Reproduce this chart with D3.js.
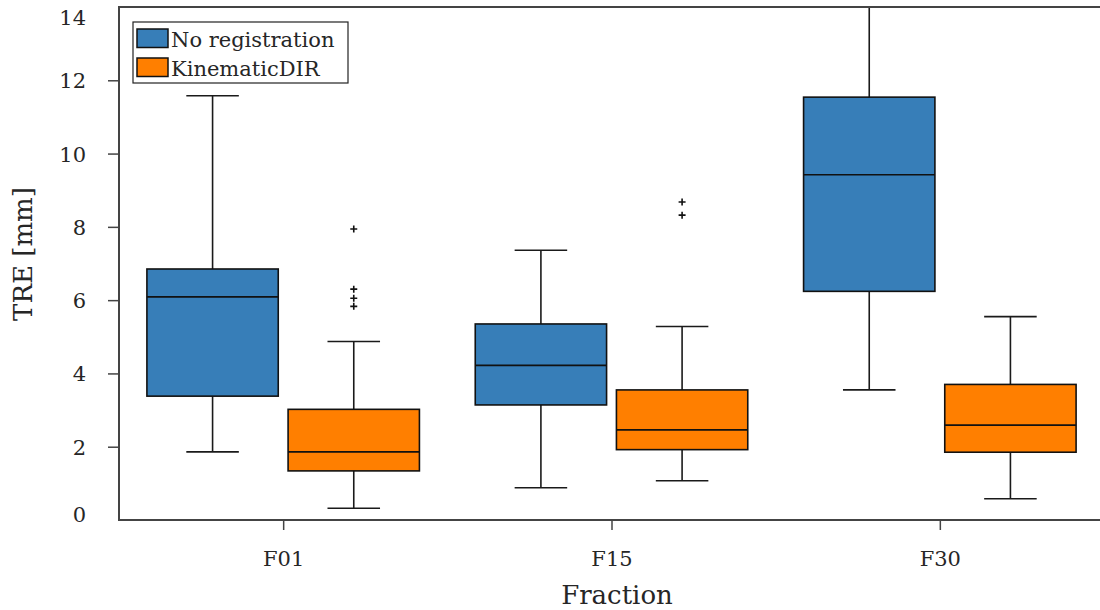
<!DOCTYPE html>
<html>
<head>
<meta charset="utf-8">
<script src="https://cdn.jsdelivr.net/npm/d3@7"></script>
<style>
  body { margin: 0; background: #fff; }
</style>
</head>
<body>
<svg id="chart"></svg>
<script>
// categories and series
let categories = ['F01', 'F15', 'F30'];
let seriesNames = ['No registration', 'KinematicDIR'];
let seriesColors = ['#377eb8', '#ff7f00'];

// No registration: whisker low, q1, median, q3, whisker high
let noRegLow = [1.86, 0.88, 3.55];
let noRegQ1 = [3.38, 3.14, 6.24];
let noRegMedian = [6.09, 4.22, 9.42];
let noRegQ3 = [6.85, 5.35, 11.54];
let noRegHigh = [11.58, 7.36, 15.2];
let noRegOutliers = [[], [], []];

// KinematicDIR
let kinLow = [0.32, 1.07, 0.58];
let kinQ1 = [1.34, 1.92, 1.85];
let kinMedian = [1.86, 2.46, 2.59];
let kinQ3 = [3.02, 3.55, 3.70];
let kinHigh = [4.87, 5.28, 5.55];
let kinOutliers = [[7.94, 6.30, 6.05, 5.83], [8.68, 8.32], []];

let yTicks = [0, 2, 4, 6, 8, 10, 12, 14];

let fontFamily = '"DejaVu Serif"';
let textColor = '#262626';

let width = 1100, height = 610;
let svg = d3.select('#chart').attr('width', width).attr('height', height);

let x = d3.scaleLinear().domain([0.5, 3.5]).range([119, 1104]);
let y = d3.scaleLinear().domain([0, 14]).range([520, 7]);

let boxWidth = 0.4, offset = 0.215, capWidth = 0.16;

// build box table from the arrays
let boxes = [];
categories.forEach((c, i) => {
    boxes.push({pos: i + 1 - offset, color: seriesColors[0], low: noRegLow[i], q1: noRegQ1[i],
        med: noRegMedian[i], q3: noRegQ3[i], high: noRegHigh[i], out: noRegOutliers[i]});
    boxes.push({pos: i + 1 + offset, color: seriesColors[1], low: kinLow[i], q1: kinQ1[i],
        med: kinMedian[i], q3: kinQ3[i], high: kinHigh[i], out: kinOutliers[i]});
});

svg.append('defs').append('clipPath').attr('id', 'plot-clip')
    .append('rect')
    .attr('x', x(0.5)).attr('y', y(14))
    .attr('width', x(3.5) - x(0.5)).attr('height', y(0) - y(14));

let plot = svg.append('g').attr('clip-path', 'url(#plot-clip)');

let bw = x(boxWidth) - x(0);
let cw = x(capWidth) - x(0);

let g = plot.selectAll('.box').data(boxes).enter().append('g').attr('class', 'box');

// whiskers
g.append('line')
    .attr('x1', d => x(d.pos)).attr('x2', d => x(d.pos))
    .attr('y1', d => y(d.q3)).attr('y2', d => y(d.high))
    .attr('stroke', '#1a1a1a').attr('stroke-width', 1.6);
g.append('line')
    .attr('x1', d => x(d.pos)).attr('x2', d => x(d.pos))
    .attr('y1', d => y(d.q1)).attr('y2', d => y(d.low))
    .attr('stroke', '#1a1a1a').attr('stroke-width', 1.6);
g.append('line')
    .attr('x1', d => x(d.pos) - cw / 2).attr('x2', d => x(d.pos) + cw / 2)
    .attr('y1', d => y(d.high)).attr('y2', d => y(d.high))
    .attr('stroke', '#1a1a1a').attr('stroke-width', 1.6);
g.append('line')
    .attr('x1', d => x(d.pos) - cw / 2).attr('x2', d => x(d.pos) + cw / 2)
    .attr('y1', d => y(d.low)).attr('y2', d => y(d.low))
    .attr('stroke', '#1a1a1a').attr('stroke-width', 1.6);

// boxes
g.append('rect')
    .attr('x', d => x(d.pos) - bw / 2)
    .attr('y', d => y(d.q3))
    .attr('width', bw)
    .attr('height', d => y(d.q1) - y(d.q3))
    .attr('fill', d => d.color)
    .attr('stroke', '#111').attr('stroke-width', 1.6);

// medians
g.append('line')
    .attr('x1', d => x(d.pos) - bw / 2).attr('x2', d => x(d.pos) + bw / 2)
    .attr('y1', d => y(d.med)).attr('y2', d => y(d.med))
    .attr('stroke', '#111').attr('stroke-width', 1.6);

// outliers as '+'
g.selectAll('.flier').data(d => d.out.map(v => ({pos: d.pos, v: v}))).enter()
    .append('path')
    .attr('class', 'flier')
    .attr('d', d => {
        let cx = x(d.pos), cy = y(d.v), s = 3.5;
        return 'M' + (cx - s) + ',' + cy + 'L' + (cx + s) + ',' + cy +
            'M' + cx + ',' + (cy - s) + 'L' + cx + ',' + (cy + s);
    })
    .attr('stroke', '#111').attr('stroke-width', 1.6);

// axes
let yAxis = svg.append('g')
    .attr('transform', 'translate(' + x(0.5) + ',0)')
    .call(d3.axisLeft(y).tickValues(yTicks).tickSize(11).tickPadding(22).tickFormat(d3.format('d')));
yAxis.select('.domain').remove();
yAxis.selectAll('.tick line').attr('stroke', '#444').attr('stroke-width', 1.5)
    .filter(d => d === 0 || d === 14).remove();
yAxis.selectAll('.tick text')
    .style('fill', textColor)
    .style('font-family', fontFamily)
    .style('font-size', '21px')
    .attr('dy', d => d === 0 ? '0.07em' : (d === 14 ? '0.85em' : '0.36em'));

let xAxis = svg.append('g')
    .attr('transform', 'translate(0,' + y(0) + ')')
    .call(d3.axisBottom(x).tickValues([1, 2, 3]).tickSize(10).tickPadding(21)
        .tickFormat((d, i) => categories[i]));
xAxis.select('.domain').remove();
xAxis.selectAll('.tick line').attr('stroke', '#444').attr('stroke-width', 1.5);
xAxis.selectAll('.tick text')
    .style('fill', textColor)
    .style('font-family', fontFamily)
    .style('font-size', '21px');

// spines
svg.append('rect')
    .attr('x', x(0.5)).attr('y', y(14))
    .attr('width', x(3.5) - x(0.5)).attr('height', y(0) - y(14))
    .attr('fill', 'none').attr('stroke', '#444').attr('stroke-width', 2);

// axis labels
svg.append('text')
    .attr('x', 617).attr('y', 604)
    .attr('text-anchor', 'middle')
    .style('font-family', fontFamily).style('fill', textColor)
    .style('font-size', '26px')
    .text('Fraction');
svg.append('text')
    .attr('transform', 'translate(32,254) rotate(-90)')
    .attr('text-anchor', 'middle')
    .style('font-family', fontFamily).style('fill', textColor)
    .style('font-size', '26px')
    .text('TRE [mm]');

// legend
let legend = svg.append('g').attr('class', 'legend');
legend.append('rect')
    .attr('x', 133).attr('y', 22).attr('width', 215).attr('height', 61)
    .attr('fill', '#fff').attr('stroke', '#222').attr('stroke-width', 1.2);
let items = legend.selectAll('.item').data(seriesNames).enter().append('g')
    .attr('transform', (d, i) => 'translate(137,' + (29 + i * 29) + ')');
items.append('rect')
    .attr('width', 31).attr('height', 18.5)
    .attr('fill', (d, i) => seriesColors[i])
    .attr('stroke', '#111').attr('stroke-width', 1.5);
items.append('text')
    .attr('x', 34).attr('y', 17.5)
    .style('font-family', fontFamily).style('fill', textColor)
    .style('font-size', '21px')
    .text(d => d);
</script>
</body>
</html>
